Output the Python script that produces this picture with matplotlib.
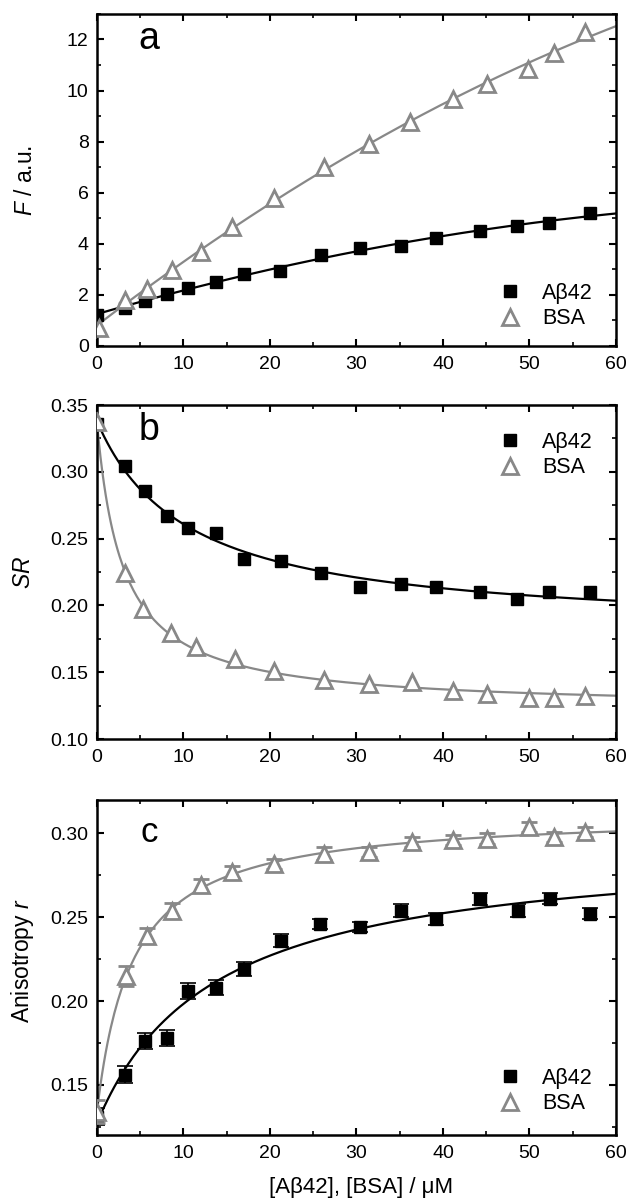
import numpy as np
import matplotlib
matplotlib.use('Agg')
import matplotlib.pyplot as plt
from matplotlib.ticker import MultipleLocator, FormatStrFormatter

plt.rcParams['font.family'] = ['Liberation Sans', 'DejaVu Sans']
plt.rcParams['mathtext.fontset'] = 'custom'
plt.rcParams['mathtext.rm'] = 'Liberation Sans'
plt.rcParams['mathtext.it'] = 'Liberation Sans:italic'

# panel a: fluorescence
xa_ab = [0, 3.2, 5.5, 8.1, 10.5, 13.8, 17.0, 21.2, 25.9, 30.4, 35.1, 39.2, 44.3, 48.5, 52.2, 57.0]
fa_ab = [1.23, 1.49, 1.77, 2.05, 2.27, 2.52, 2.81, 2.94, 3.56, 3.84, 3.91, 4.23, 4.50, 4.69, 4.83, 5.20]
xa_bsa = [0.2, 3.2, 5.8, 8.7, 12.0, 15.6, 20.5, 26.3, 31.5, 36.2, 41.2, 45.1, 49.8, 52.8, 56.4]
fa_bsa = [0.71, 1.79, 2.23, 2.98, 3.69, 4.66, 5.80, 6.99, 7.90, 8.76, 9.67, 10.27, 10.83, 11.48, 12.30]

# panel b: SR
xb_ab = [0, 3.2, 5.5, 8.1, 10.5, 13.8, 17.0, 21.3, 25.9, 30.4, 35.1, 39.2, 44.3, 48.5, 52.2, 57.0]
sr_ab = [0.336, 0.304, 0.286, 0.267, 0.258, 0.254, 0.235, 0.233, 0.224, 0.214, 0.216, 0.214, 0.210, 0.205, 0.210, 0.210]
xb_bsa = [0, 3.2, 5.3, 8.6, 11.5, 15.9, 20.5, 26.3, 31.5, 36.4, 41.2, 45.1, 50.0, 52.8, 56.4]
sr_bsa = [0.337, 0.224, 0.197, 0.179, 0.169, 0.160, 0.151, 0.144, 0.141, 0.143, 0.136, 0.134, 0.131, 0.131, 0.132]

# panel c: anisotropy
xc_ab = [0, 3.2, 5.5, 8.1, 10.5, 13.8, 17.0, 21.3, 25.8, 30.4, 35.1, 39.2, 44.3, 48.7, 52.4, 57.0]
r_ab = [0.131, 0.156, 0.176, 0.178, 0.206, 0.208, 0.219, 0.236, 0.246, 0.244, 0.254, 0.249, 0.261, 0.254, 0.261, 0.252]
r_ab_err = [0.005, 0.005, 0.0047, 0.0047, 0.0045, 0.0043, 0.0043, 0.004, 0.003, 0.003, 0.004, 0.0035, 0.0037, 0.004, 0.0032, 0.0033]
xc_bsa = [0, 3.4, 5.8, 8.7, 12.0, 15.6, 20.5, 26.3, 31.5, 36.4, 41.2, 45.1, 49.9, 52.8, 56.4]
r_bsa = [0.134, 0.215, 0.239, 0.254, 0.269, 0.277, 0.282, 0.288, 0.289, 0.295, 0.296, 0.297, 0.304, 0.298, 0.301]
r_bsa_err = [0.007, 0.006, 0.0045, 0.0045, 0.004, 0.0035, 0.003, 0.004, 0.003, 0.003, 0.003, 0.003, 0.003, 0.003, 0.003]

GRAY = '#888888'
TICK_FS = 14
YLAB_FS = 16.5
LEG_FS = 15.5
SQ = dict(marker='s', color='black', ms=8.5, ls='none')
TRI = dict(marker='^', mfc='white', mec=GRAY, mew=2.0, ms=11, ls='none')


def hyper_fit(x, y):
    # y = y0 + A*x/(K+x), grid over K, least squares for y0 and A
    x = np.asarray(x, float)
    y = np.asarray(y, float)
    best = None
    for K in np.linspace(0.2, 60, 600):
        M = np.column_stack([np.ones_like(x), x / (K + x)])
        coef = np.linalg.lstsq(M, y, rcond=None)[0]
        err = np.sum((M @ coef - y) ** 2)
        if best is None or err < best[0]:
            best = (err, K, coef)
    _, K, coef = best
    return lambda t: coef[0] + coef[1] * t / (K + t)


def style_axes(ax, ymajor, yminor):
    ax.xaxis.set_major_locator(MultipleLocator(10))
    ax.xaxis.set_minor_locator(MultipleLocator(5))
    ax.yaxis.set_major_locator(MultipleLocator(ymajor))
    ax.yaxis.set_minor_locator(MultipleLocator(yminor))
    ax.tick_params(which='both', direction='in', top=True, right=True, labelsize=TICK_FS)
    ax.tick_params(which='major', length=5, width=1.5)
    ax.tick_params(which='minor', length=3, width=1.2)
    ax.tick_params(axis='y', which='major', pad=6)
    ax.tick_params(axis='x', which='major', pad=7)
    for s in ax.spines.values():
        s.set_linewidth(1.8)
    ax.set_xlim(0, 60)


def ylabel(ax, text, x, y=0.5):
    ax.set_ylabel(text, fontsize=YLAB_FS)
    ax.yaxis.label.set_va('center')
    ax.yaxis.set_label_coords(x, y)


def legend(ax, ycenter, handles=None, labels=None):
    if handles is None:
        handles, labels = ax.get_legend_handles_labels()
    ax.legend(handles, labels, frameon=False, fontsize=LEG_FS, loc='center left',
              bbox_to_anchor=(0.775, ycenter), borderpad=0, borderaxespad=0,
              handlelength=1.0, handletextpad=1.0, labelspacing=0.2)


fig = plt.figure(figsize=(6.29, 12.03), dpi=100)
L, W = 0.1542, 0.8251
ax_a = fig.add_axes([L, 0.7124, W, 0.2760])
ax_b = fig.add_axes([L, 0.3857, W, 0.2776])
ax_c = fig.add_axes([L, 0.0565, W, 0.2785])

xs = np.linspace(0, 60, 300)

# a
pa = np.polyfit(xa_ab, fa_ab, 2)
pb = np.polyfit(xa_bsa, fa_bsa, 2)
ax_a.plot(xs, np.polyval(pa, xs), color='black', lw=1.6, zorder=2)
ax_a.plot(xs, np.polyval(pb, xs), color=GRAY, lw=1.6, zorder=2)
ax_a.plot(xa_ab, fa_ab, label='A\u03b242', zorder=3, **SQ)
ax_a.plot(xa_bsa, fa_bsa, label='BSA', zorder=4, **TRI)
ax_a.set_ylim(0, 13)
style_axes(ax_a, 2, 1)
ylabel(ax_a, '$F$ / a.u.', -0.138)
ax_a.text(0.1, 0.895, 'a', transform=ax_a.transAxes, fontsize=27, ha='center', va='baseline')
legend(ax_a, 0.12)

# b
fb1 = hyper_fit(xb_ab, sr_ab)
fb2 = hyper_fit(xb_bsa, sr_bsa)
ax_b.plot(xs, fb1(xs), color='black', lw=1.6, zorder=2)
ax_b.plot(xs, fb2(xs), color=GRAY, lw=1.6, zorder=2)
ax_b.plot(xb_ab, sr_ab, label='A\u03b242', zorder=3, **SQ)
ax_b.plot(xb_bsa, sr_bsa, label='BSA', zorder=4, **TRI)
ax_b.set_ylim(0.10, 0.35)
style_axes(ax_b, 0.05, 0.025)
ax_b.yaxis.set_major_formatter(FormatStrFormatter('%.2f'))
ylabel(ax_b, '$SR$', -0.142)
ax_b.text(0.1, 0.895, 'b', transform=ax_b.transAxes, fontsize=27, ha='center', va='baseline')
legend(ax_b, 0.85)

# c
fc1 = hyper_fit(xc_ab, r_ab)
fc2 = hyper_fit(xc_bsa, r_bsa)
ax_c.plot(xs, fc1(xs), color='black', lw=1.6, zorder=2)
ax_c.plot(xs, fc2(xs), color=GRAY, lw=1.6, zorder=2)
ax_c.errorbar(xc_ab, r_ab, yerr=r_ab_err, capsize=6, elinewidth=1.2, capthick=1.2,
              label='A\u03b242', zorder=3, **SQ)
ax_c.errorbar(xc_bsa, r_bsa, yerr=r_bsa_err, ecolor=GRAY, capsize=6, elinewidth=1.2,
              capthick=1.2, label='BSA', zorder=4, **TRI)
ax_c.set_ylim(0.12, 0.32)
style_axes(ax_c, 0.05, 0.025)
ax_c.yaxis.set_major_formatter(FormatStrFormatter('%.2f'))
ylabel(ax_c, 'Anisotropy $r$', -0.144, 0.52)
ax_c.set_xlabel('[A\u03b242], [BSA] / \u03bcM', fontsize=16)
ax_c.xaxis.label.set_va('center')
ax_c.xaxis.set_label_coords(0.509, -0.158)
ax_c.text(0.1, 0.875, 'c', transform=ax_c.transAxes, fontsize=25, ha='center', va='baseline')
h, l = ax_c.get_legend_handles_labels()
h = [hh[0] for hh in h]
legend(ax_c, 0.131, h, l)

fig.savefig('out.png', dpi=100)
